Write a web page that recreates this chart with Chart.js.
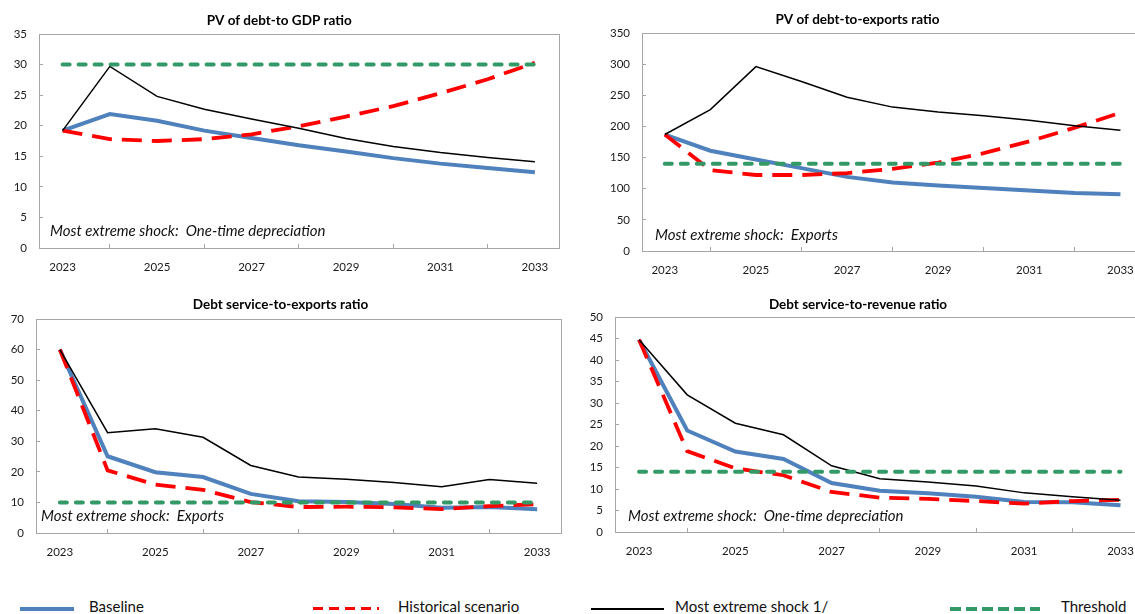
<!DOCTYPE html>
<html>
<head>
<meta charset="utf-8">
<script src="https://cdn.jsdelivr.net/npm/chart.js@4.4.1/dist/chart.umd.min.js"></script>
<style>
    html, body { margin: 0; padding: 0; background: #fff; }
    body { width: 1135px; height: 614px; position: relative; overflow: hidden; font-family: 'Lato', sans-serif; }
    canvas { position: absolute; }
    .lg { position: absolute; top: 597px; font-size: 15px; color: #111; line-height: 19px; }
    .sw { position: absolute; top: 607px; height: 4px; }
</style>
</head>
<body>
<canvas id="c1" width="570" height="290" style="left:0;top:0"></canvas>
<canvas id="c2" width="580" height="290" style="left:570px;top:0"></canvas>
<canvas id="c3" width="570" height="280" style="left:0;top:290px"></canvas>
<canvas id="c4" width="580" height="280" style="left:570px;top:290px"></canvas>

<div class="sw" style="left:20px;width:54px;background:#4f81bd"></div>
<div class="lg" style="left:89px">Baseline</div>
<div class="sw" style="left:313px;width:66px;height:3px;top:607px;background:repeating-linear-gradient(90deg,#ff0000 0 10px,transparent 10px 16px)"></div>
<div class="lg" style="left:398px">Historical scenario</div>
<div class="sw" style="left:591px;width:73px;height:2px;top:608px;background:#000"></div>
<div class="lg" style="left:675px">Most extreme shock 1/</div>
<div class="sw" style="left:950px;width:90px;background:repeating-linear-gradient(90deg,#339966 0 11px,transparent 11px 16px)"></div>
<div class="lg" style="left:1061px">Threshold</div>

<script>
'use strict';

const years = ['2023', '2024', '2025', '2026', '2027', '2028', '2029', '2030', '2031', '2032', '2033'];

// PV of debt-to GDP ratio
const gdpBaseline   = [19.2, 21.9, 20.8, 19.2, 18.0, 16.8, 15.8, 14.7, 13.8, 13.1, 12.4];
const gdpHistorical = [19.2, 17.8, 17.5, 17.8, 18.6, 19.9, 21.5, 23.2, 25.3, 27.6, 30.3];
const gdpExtreme    = [19.2, 29.7, 24.8, 22.7, 21.1, 19.6, 17.9, 16.6, 15.6, 14.8, 14.1];
const gdpThreshold  = [30, 30, 30, 30, 30, 30, 30, 30, 30, 30, 30];

// PV of debt-to-exports ratio
const expBaseline   = [187, 161, 147, 133, 119, 110, 105, 101, 97, 93, 91];
const expHistorical = [187, 130, 122, 122, 125, 132, 142, 157, 176, 198, 222];
const expExtreme    = [187, 227, 296, 272, 247, 231, 223, 217, 210, 201, 194];
const expThreshold  = [140, 140, 140, 140, 140, 140, 140, 140, 140, 140, 140];

// Debt service-to-exports ratio
const dsxBaseline   = [60, 25.1, 19.9, 18.3, 12.8, 10.4, 10.1, 9.5, 8.3, 8.5, 7.8];
const dsxHistorical = [60, 20.5, 15.8, 14.1, 10.1, 8.5, 8.6, 8.4, 7.8, 8.8, 9.4];
const dsxExtreme    = [60, 32.8, 34.1, 31.3, 22.1, 18.3, 17.6, 16.5, 15.1, 17.5, 16.3];
const dsxThreshold  = [10, 10, 10, 10, 10, 10, 10, 10, 10, 10, 10];

// Debt service-to-revenue ratio
const dsrBaseline   = [44.7, 23.6, 18.7, 17.0, 11.4, 9.6, 9.0, 8.2, 7.0, 6.9, 6.2];
const dsrHistorical = [44.7, 18.8, 14.8, 13.2, 9.3, 8.0, 7.7, 7.2, 6.6, 7.2, 7.5];
const dsrExtreme    = [44.7, 31.9, 25.3, 22.6, 15.4, 12.4, 11.6, 10.7, 9.1, 8.2, 7.4];
const dsrThreshold  = [14, 14, 14, 14, 14, 14, 14, 14, 14, 14, 14];

Chart.defaults.font.family = "'Lato', sans-serif";
Chart.defaults.font.size = 11.5;
Chart.defaults.color = '#1a1a1a';

const AXIS_GRAY = '#a6a6a6';

// рамка вокруг области графика + подпись про шок
const frameNote = {
    id: 'frameNote',
    afterDraw(chart, args, opts) {
        const { ctx, chartArea: a } = chart;
        ctx.save();
        ctx.strokeStyle = AXIS_GRAY;
        ctx.lineWidth = 1;
        ctx.strokeRect(Math.round(a.left) + 0.5, Math.round(a.top) + 0.5,
            Math.round(a.right - a.left), Math.round(a.bottom - a.top));
        if (opts.text) {
            ctx.font = "italic 15px 'Lato', sans-serif";
            ctx.fillStyle = '#111';
            ctx.textBaseline = 'middle';
            ctx.fillText(opts.text, a.left + opts.dx, a.bottom - opts.dy);
        }
        ctx.restore();
    },
};

function build(id, cfg) {
    const datasets = [
        { label: 'Baseline', data: cfg.baseline, borderColor: '#4f81bd', borderWidth: 4, order: 4 },
        { label: 'Historical scenario', data: cfg.historical, borderColor: '#ff0000', borderWidth: 3.8,
          borderDash: [20, 10], order: 3 },
        { label: 'Most extreme shock 1/', data: cfg.extreme, borderColor: '#000000', borderWidth: 1.5, order: 2 },
        { label: 'Threshold', data: cfg.threshold, borderColor: '#339966', borderWidth: 4,
          borderDash: [7, 9], borderCapStyle: 'round', order: 1 },
    ].map((d) => Object.assign({ pointRadius: 0, tension: 0, fill: false }, d));

    return new Chart(document.getElementById(id), {
        type: 'line',
        data: { labels: years, datasets },
        plugins: [frameNote],
        options: {
            responsive: false,
            animation: false,
            layout: { padding: { left: 0, right: cfg.padRight, top: 0, bottom: 0 } },
            plugins: {
                legend: { display: false },
                tooltip: { enabled: false },
                title: {
                    display: true,
                    text: cfg.title,
                    color: '#000',
                    font: { size: 13.5, weight: 'bold' },
                    padding: { top: cfg.titleTop, bottom: cfg.titleBottom },
                },
                frameNote: { text: cfg.note, dx: cfg.noteDx, dy: cfg.noteDy },
            },
            scales: {
                x: {
                    offset: true,
                    afterFit: (s) => { s.height = cfg.xHeight; },
                    grid: { offset: true, drawOnChartArea: false, tickLength: -4, color: AXIS_GRAY },
                    border: { color: AXIS_GRAY },
                    ticks: {
                        autoSkip: false,
                        maxRotation: 0,
                        padding: 16,
                        callback: (v, i) => (i % 2 === 0 ? years[i] : null),
                    },
                },
                y: {
                    min: 0,
                    max: cfg.max,
                    afterFit: (s) => { s.width = cfg.yWidth; },
                    grid: { drawOnChartArea: false, tickLength: -4, color: AXIS_GRAY },
                    border: { color: AXIS_GRAY },
                    ticks: { stepSize: cfg.step, padding: 16 },
                },
            },
        },
    });
}

build('c1', {
    title: 'PV of debt-to GDP ratio',
    baseline: gdpBaseline, historical: gdpHistorical, extreme: gdpExtreme, threshold: gdpThreshold,
    max: 35, step: 5,
    yWidth: 39, xHeight: 42, padRight: 11.5, titleTop: 12.5, titleBottom: 5.3,
    note: 'Most extreme shock:  One-time depreciation', noteDx: 11, noteDy: 17,
});

build('c2', {
    title: 'PV of debt-to-exports ratio',
    baseline: expBaseline, historical: expHistorical, extreme: expExtreme, threshold: expThreshold,
    max: 350, step: 50,
    yWidth: 72, xHeight: 39, padRight: 5, titleTop: 11.5, titleBottom: 5.3,
    note: 'Most extreme shock:  Exports', noteDx: 13, noteDy: 16,
});

build('c3', {
    title: 'Debt service-to-exports ratio',
    baseline: dsxBaseline, historical: dsxHistorical, extreme: dsxExtreme, threshold: dsxThreshold,
    max: 70, step: 10,
    yWidth: 36, xHeight: 37, padRight: 9, titleTop: 6.5, titleBottom: 6.3,
    note: 'Most extreme shock:  Exports', noteDx: 5, noteDy: 17,
});

build('c4', {
    title: 'Debt service-to-revenue ratio',
    baseline: dsrBaseline, historical: dsrHistorical, extreme: dsrExtreme, threshold: dsrThreshold,
    max: 50, step: 5,
    yWidth: 45, xHeight: 38, padRight: 4, titleTop: 6.5, titleBottom: 4.3,
    note: 'Most extreme shock:  One-time depreciation', noteDx: 13, noteDy: 16,
});
</script>
</body>
</html>
